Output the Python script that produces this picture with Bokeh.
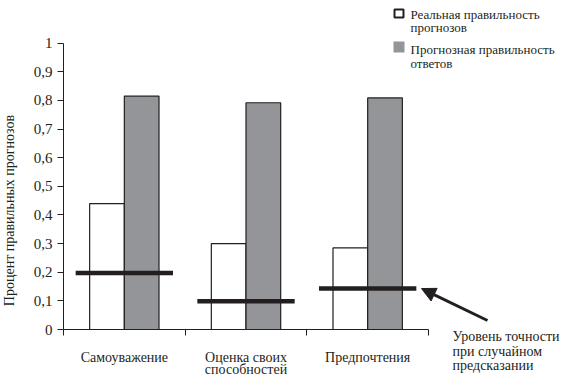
from bokeh.plotting import figure
from bokeh.models import Range1d, FixedTicker, Label, BoxAnnotation, Arrow, NormalHead
from bokeh.embed import file_html
from bokeh.resources import INLINE

# ---- data ----
categories = ["Самоуважение", "Оценка своих\nспособностей", "Предпочтения"]
real_accuracy = [0.44, 0.30, 0.285]          # Реальная правильность прогнозов
predicted_accuracy = [0.815, 0.792, 0.809]   # Прогнозная правильность ответов
chance_level = [0.197, 0.099, 0.143]         # Уровень точности при случайном предсказании
y_ticks = [0, 0.1, 0.2, 0.3, 0.4, 0.5, 0.6, 0.7, 0.8, 0.9, 1.0]
y_tick_labels = ["0", "0,1", "0,2", "0,3", "0,4", "0,5", "0,6", "0,7", "0,8", "0,9", "1"]
legend_labels = [["Реальная правильность", "прогнозов"], ["Прогнозная правильность", "ответов"]]
note_lines = ["Уровень точности", "при случайном", "предсказании"]
y_title = "Процент правильных прогнозов"

INK = "#231f20"
GRAY = "#939598"
FONT = "'Liberation Serif', 'DejaVu Serif', serif"

W, H = 562, 378
X0, Y0 = 63, 329      # canvas pixel of data origin
XPX = 121.67          # pixels per category unit
YPX = 286.3           # pixels per 1.0

p = figure(width=W, height=H, output_backend="svg", toolbar_location=None,
           x_range=Range1d(-X0 / XPX, (W - X0) / XPX),
           y_range=Range1d((Y0 - H) / YPX, Y0 / YPX),
           min_border=0)
p.outline_line_color = None
p.xgrid.visible = False
p.ygrid.visible = False
p.background_fill_color = "white"
p.border_fill_color = "white"

def dx(px):
    return (px - X0) / XPX

def dy(py):
    return (Y0 - py) / YPX

n = len(categories)

# y axis
ya = p.yaxis[0]
ya.fixed_location = 0
ya.ticker = FixedTicker(ticks=y_ticks)
ya.major_label_overrides = {t: l for t, l in zip(y_ticks, y_tick_labels)}
ya.bounds = (0, 1)
ya.major_tick_in = 0
ya.major_tick_out = 6
ya.minor_tick_line_color = None
ya.axis_line_color = INK
ya.major_tick_line_color = INK
ya.major_label_text_font = FONT
ya.major_label_text_font_size = "15px"
ya.major_label_text_color = INK
ya.major_label_standoff = 5

# x axis: labels at category centres, boundary ticks as minor ticks
xa = p.xaxis[0]
xa.fixed_location = 0
centres = [i + 0.5 for i in range(n)]
xa.ticker = FixedTicker(ticks=centres, minor_ticks=list(range(n + 1)))
xa.major_label_overrides = {c: t for c, t in zip(centres, categories)}
xa.bounds = (0, n)
xa.major_tick_in = 0
xa.major_tick_out = 0
xa.major_tick_line_color = None
xa.minor_tick_in = 0
xa.minor_tick_out = 6
xa.minor_tick_line_color = INK
xa.axis_line_color = INK
xa.major_label_text_font = FONT
xa.major_label_text_font_size = "14px"
xa.major_label_text_color = INK
xa.major_label_text_line_height = 0.85
xa.major_label_standoff = 14

# bars
idx = list(range(n))
bw = 0.285
p.vbar(x=[i + 0.5 - bw / 2 for i in idx], width=bw, top=real_accuracy, bottom=0,
       fill_color="white", line_color=INK, line_width=1.2)
p.vbar(x=[i + 0.5 + bw / 2 for i in idx], width=bw, top=predicted_accuracy, bottom=0,
       fill_color=GRAY, line_color=INK, line_width=1.2)

# chance lines
p.segment(x0=[i + 0.1 for i in idx], x1=[i + 0.9 for i in idx],
          y0=chance_level, y1=chance_level, line_color=INK, line_width=4.5, line_cap="butt")

# y axis title
p.add_layout(Label(x=dx(9), y=dy(210), text=y_title, angle=1.5708,
                   text_align="center", text_baseline="middle", text_font=FONT,
                   text_font_size="14px", text_color=INK))

# legend
p.add_layout(BoxAnnotation(left=dx(394), right=dx(403), top=dy(9), bottom=dy(17),
                           fill_color="white", fill_alpha=1, line_color=INK, line_width=2,
                           line_alpha=1))
p.add_layout(BoxAnnotation(left=dx(393), right=dx(404), top=dy(41), bottom=dy(52),
                           fill_color=GRAY, fill_alpha=1, line_color=None))
leg_base = [[14, 27], [48.5, 63]]
for lab, bases in zip(legend_labels, leg_base):
    for t, b in zip(lab, bases):
        p.add_layout(Label(x=dx(410), y=dy(b), text=t, text_align="left",
                           text_baseline="alphabetic", text_font=FONT,
                           text_font_size="13px", text_color=INK))

# arrow and note
p.add_layout(Arrow(x_start=dx(487), y_start=dy(320), x_end=dx(421), y_end=chance_level[2],
                   line_width=3, line_color=INK,
                   end=NormalHead(size=14, fill_color=INK, line_color=INK)))
for k, t in enumerate(note_lines):
    p.add_layout(Label(x=dx(452), y=dy(336 + 14.5 * k), text=t, text_align="left",
                       text_baseline="alphabetic", text_font=FONT,
                       text_font_size="14px", text_color=INK))

open("out.html", "w").write(file_html(p, INLINE))
